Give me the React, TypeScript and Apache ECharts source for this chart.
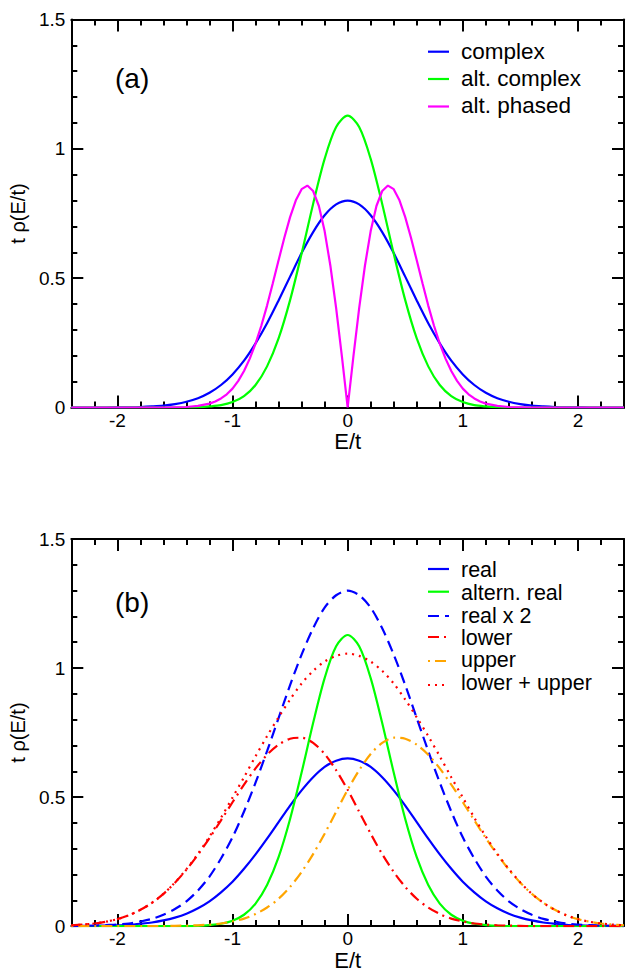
import React, { useEffect, useRef } from "react";
import * as echarts from "echarts";

const X = [-2.4,-2.3,-2.2,-2.1,-2,-1.9,-1.8,-1.7,-1.6,-1.5,-1.4,-1.3,-1.2,-1.1,-1,-0.9,-0.8,-0.7,-0.6,-0.5,-0.4,-0.3,-0.2,-0.1,0,0.1,0.2,0.3,0.4,0.5,0.6,0.7,0.8,0.9,1,1.1,1.2,1.3,1.4,1.5,1.6,1.7,1.8,1.9,2,2.1,2.2,2.3,2.4];
const XP = [-2.4,-1.6,-1.5,-1.4,-1.3,-1.2,-1.15,-1.1,-1.05,-1,-0.95,-0.9,-0.85,-0.8,-0.75,-0.7,-0.65,-0.6,-0.55,-0.5,-0.45,-0.4,-0.35,-0.3,-0.25,-0.2,-0.15,-0.1,-0.05,0,0.05,0.1,0.15,0.2,0.25,0.3,0.35,0.4,0.45,0.5,0.55,0.6,0.65,0.7,0.75,0.8,0.85,0.9,0.95,1,1.05,1.1,1.15,1.2,1.3,1.4,1.5,1.6,2.4];

// panel (a)
const complexA = [0,0,0,0,0.0005,0.001,0.002,0.004,0.007,0.013,0.022,0.036,0.057,0.087,0.128,0.181,0.248,0.326,0.414,0.506,0.597,0.678,0.743,0.785,0.800,0.785,0.743,0.678,0.597,0.506,0.414,0.326,0.248,0.181,0.128,0.087,0.057,0.036,0.022,0.013,0.007,0.004,0.002,0.001,0.0005,0,0,0,0];
const altComplexA = [0,0,0,0,0,0,0,0,0,0,0,0.001,0.004,0.009,0.021,0.044,0.087,0.159,0.267,0.415,0.595,0.787,0.961,1.084,1.128,1.084,0.961,0.787,0.595,0.415,0.267,0.159,0.087,0.044,0.021,0.009,0.004,0.001,0,0,0,0,0,0,0,0,0,0,0];
const altPhasedA = [0,0,0.001,0.002,0.006,0.015,0.023,0.035,0.051,0.073,0.103,0.141,0.189,0.247,0.316,0.394,0.480,0.569,0.656,0.736,0.801,0.844,0.858,0.837,0.779,0.682,0.548,0.384,0.198,0,0.198,0.384,0.548,0.682,0.779,0.837,0.858,0.844,0.801,0.736,0.656,0.569,0.480,0.394,0.316,0.247,0.189,0.141,0.103,0.073,0.051,0.035,0.023,0.015,0.006,0.002,0.001,0,0];

// panel (b)
const realB = [0,0.0005,0.001,0.002,0.003,0.005,0.009,0.014,0.022,0.033,0.048,0.069,0.096,0.131,0.172,0.222,0.278,0.339,0.403,0.467,0.526,0.577,0.617,0.641,0.650,0.641,0.617,0.577,0.526,0.467,0.403,0.339,0.278,0.222,0.172,0.131,0.096,0.069,0.048,0.033,0.022,0.014,0.009,0.005,0.003,0.002,0.001,0.0005,0];
const alternRealB = [0,0,0,0,0,0,0,0,0,0,0,0.001,0.004,0.009,0.021,0.044,0.087,0.159,0.267,0.415,0.595,0.787,0.961,1.084,1.128,1.084,0.961,0.787,0.595,0.415,0.267,0.159,0.087,0.044,0.021,0.009,0.004,0.001,0,0,0,0,0,0,0,0,0,0,0];
const realX2B = [0,0.001,0.002,0.004,0.006,0.010,0.018,0.028,0.044,0.066,0.096,0.138,0.192,0.262,0.344,0.444,0.556,0.678,0.806,0.934,1.052,1.154,1.234,1.282,1.300,1.282,1.234,1.154,1.052,0.934,0.806,0.678,0.556,0.444,0.344,0.262,0.192,0.138,0.096,0.066,0.044,0.028,0.018,0.010,0.006,0.004,0.002,0.001,0];
const lowerB = [0.003,0.006,0.010,0.017,0.027,0.042,0.063,0.090,0.125,0.168,0.219,0.277,0.341,0.410,0.480,0.548,0.611,0.664,0.703,0.726,0.730,0.710,0.667,0.604,0.528,0.443,0.358,0.279,0.210,0.152,0.106,0.072,0.047,0.029,0.018,0.010,0.006,0.003,0.002,0.001,0,0,0,0,0,0,0,0,0];
const upperB = [0,0,0,0,0,0,0,0,0,0.001,0.002,0.003,0.006,0.010,0.018,0.029,0.047,0.072,0.106,0.152,0.210,0.279,0.358,0.443,0.528,0.604,0.667,0.710,0.730,0.726,0.703,0.664,0.611,0.548,0.480,0.410,0.341,0.277,0.219,0.168,0.125,0.090,0.063,0.042,0.027,0.017,0.010,0.006,0.003];
const sumB = [0.003,0.006,0.010,0.017,0.027,0.042,0.063,0.090,0.125,0.169,0.221,0.280,0.347,0.420,0.498,0.577,0.658,0.736,0.809,0.878,0.940,0.989,1.025,1.047,1.056,1.047,1.025,0.989,0.940,0.878,0.809,0.736,0.658,0.577,0.498,0.420,0.347,0.280,0.221,0.169,0.125,0.090,0.063,0.042,0.027,0.017,0.010,0.006,0.003];

const X_MAJOR = [-2, -1, 0, 1, 2];
const X_MINOR = [-2.2,-1.8,-1.6,-1.4,-1.2,-0.8,-0.6,-0.4,-0.2,0.2,0.4,0.6,0.8,1.2,1.4,1.6,1.8,2.2];
const Y_MAJOR = [0, 0.5, 1, 1.5];
const Y_MINOR = [0.1,0.2,0.3,0.4,0.6,0.7,0.8,0.9,1.1,1.2,1.3,1.4];

const LEGEND_A = ["complex", "alt. complex", "alt. phased"];
const LEGEND_B = ["real", "altern. real", "real x 2", "lower", "upper", "lower + upper"];

const FONT = "'Liberation Sans', Arial, Helvetica, sans-serif";
const BLUE = "#0000ff", GREEN = "#00ff00", MAGENTA = "#ff00ff", RED = "#ff0000", ORANGE = "#ffa500";

const AXLINE = { show: true, onZero: false, lineStyle: { color: "#000", width: 2 } };
const NOLINE = { show: false, onZero: false };
const tick = (vals: number[], len: number) => ({ show: true, inside: true, length: len, customValues: vals, lineStyle: { color: "#000", width: 2 } });

function xAxes(gridIndex: number) {
  const base: any = { type: "value", gridIndex, min: -2.4, max: 2.4, splitLine: { show: false } };
  return [
    { ...base, position: "bottom", axisLine: AXLINE, axisTick: tick(X_MAJOR, 12),
      axisLabel: { show: true, customValues: X_MAJOR, fontSize: 19, color: "#000", fontFamily: FONT, margin: 3 },
      name: "E/t", nameLocation: "middle", nameGap: 22,
      nameTextStyle: { fontSize: 22, color: "#000", fontFamily: FONT } },
    { ...base, position: "bottom", axisLine: NOLINE, axisTick: tick(X_MINOR, 6), axisLabel: { show: false } },
    { ...base, position: "top", axisLine: AXLINE, axisTick: tick(X_MAJOR, 12), axisLabel: { show: false } },
    { ...base, position: "top", axisLine: NOLINE, axisTick: tick(X_MINOR, 6), axisLabel: { show: false } },
  ];
}

function yAxes(gridIndex: number) {
  const base: any = { type: "value", gridIndex, min: 0, max: 1.5, splitLine: { show: false } };
  return [
    { ...base, position: "left", axisLine: AXLINE, axisTick: tick(Y_MAJOR, 12),
      axisLabel: { show: true, customValues: Y_MAJOR, fontSize: 19, color: "#000", fontFamily: FONT, margin: 6 },
      name: "t ρ(E/t)", nameLocation: "middle", nameGap: 36,
      nameTextStyle: { fontSize: 20, color: "#000", fontFamily: FONT } },
    { ...base, position: "left", axisLine: NOLINE, axisTick: tick(Y_MINOR, 6), axisLabel: { show: false } },
    { ...base, position: "right", axisLine: AXLINE, axisTick: tick(Y_MAJOR, 12), axisLabel: { show: false } },
    { ...base, position: "right", axisLine: NOLINE, axisTick: tick(Y_MINOR, 6), axisLabel: { show: false } },
  ];
}

function mkSeries(name: string, xs: number[], ys: number[], axisIdx: number, color: string, dash: any, smooth: any) {
  return {
    type: "line", name, xAxisIndex: axisIdx, yAxisIndex: axisIdx,
    data: xs.map((x, i) => [x, ys[i]]),
    showSymbol: false, symbol: "none", smooth,
    lineStyle: { color, width: 2.2, type: dash, cap: "butt" },
    clip: true, z: 3,
  };
}

const DASH = [11, 6];
const DASHDOT = [11, 5, 2, 5];
const DOTDASH = [2, 5, 11, 5];
const DOT = [2, 5];

function legendItems(labels: string[], colors: string[], dashes: any[], rowsY: number[], lineY: number[], fontSize: number) {
  const out: any[] = [];
  labels.forEach((t, i) => {
    out.push({ type: "line", shape: { x1: 428, y1: lineY[i], x2: 449, y2: lineY[i] },
      style: { stroke: colors[i], lineWidth: 2.2, lineDash: dashes[i] === "solid" ? null : dashes[i] } });
    out.push({ type: "text", x: 461, y: rowsY[i],
      style: { text: t, fontSize, lineHeight: fontSize, fill: "#000", fontFamily: FONT, align: "left", verticalAlign: "middle" } });
  });
  return out;
}

export default function App() {
  const ref = useRef<HTMLDivElement>(null);
  useEffect(() => {
    document.body.style.margin = "0";
    const chart = echarts.init(ref.current!, null, { renderer: "svg" });
    const option: any = {
      animation: false,
      backgroundColor: "#fff",
      grid: [
        { left: 70, top: 19.5, width: 554, height: 388 },
        { left: 70, top: 539, width: 554, height: 388.5 },
      ],
      xAxis: [...xAxes(0), ...xAxes(1)],
      yAxis: [...yAxes(0), ...yAxes(1)],
      series: [
        mkSeries("complex", X, complexA, 0, BLUE, "solid", 0.3),
        mkSeries("alt. complex", X, altComplexA, 0, GREEN, "solid", 0.3),
        mkSeries("alt. phased", XP, altPhasedA, 0, MAGENTA, "solid", false),
        mkSeries("real", X, realB, 4, BLUE, "solid", 0.3),
        mkSeries("altern. real", X, alternRealB, 4, GREEN, "solid", 0.3),
        mkSeries("real x 2", X, realX2B, 4, BLUE, DASH, 0.3),
        mkSeries("lower", X, lowerB, 4, RED, DASHDOT, 0.3),
        mkSeries("upper", X, upperB, 4, ORANGE, DOTDASH, 0.3),
        mkSeries("lower + upper", X, sumB, 4, RED, DOT, 0.3),
      ],
      graphic: [
        { type: "text", x: 115, y: 78.5, style: { text: "(a)", fontSize: 28, fill: "#000", fontFamily: FONT, verticalAlign: "middle" } },
        { type: "text", x: 115, y: 602, style: { text: "(b)", fontSize: 28, fill: "#000", fontFamily: FONT, verticalAlign: "middle" } },
        ...legendItems(LEGEND_A, [BLUE, GREEN, MAGENTA], ["solid", "solid", "solid"], [51.7, 78.3, 105], [51.7, 79, 106.5], 22.5),
        ...legendItems(LEGEND_B, [BLUE, GREEN, BLUE, RED, ORANGE, RED], ["solid", "solid", DASH, DASHDOT, DOTDASH, DOT],
          [569.5, 592.5, 615.5, 637.5, 659.5, 682.5], [569, 591.7, 616, 637, 661, 685], 21.5),
      ],
    };
    chart.setOption(option);
    return () => chart.dispose();
  }, []);
  return <div ref={ref} style={{ width: 626, height: 972 }} />;
}
